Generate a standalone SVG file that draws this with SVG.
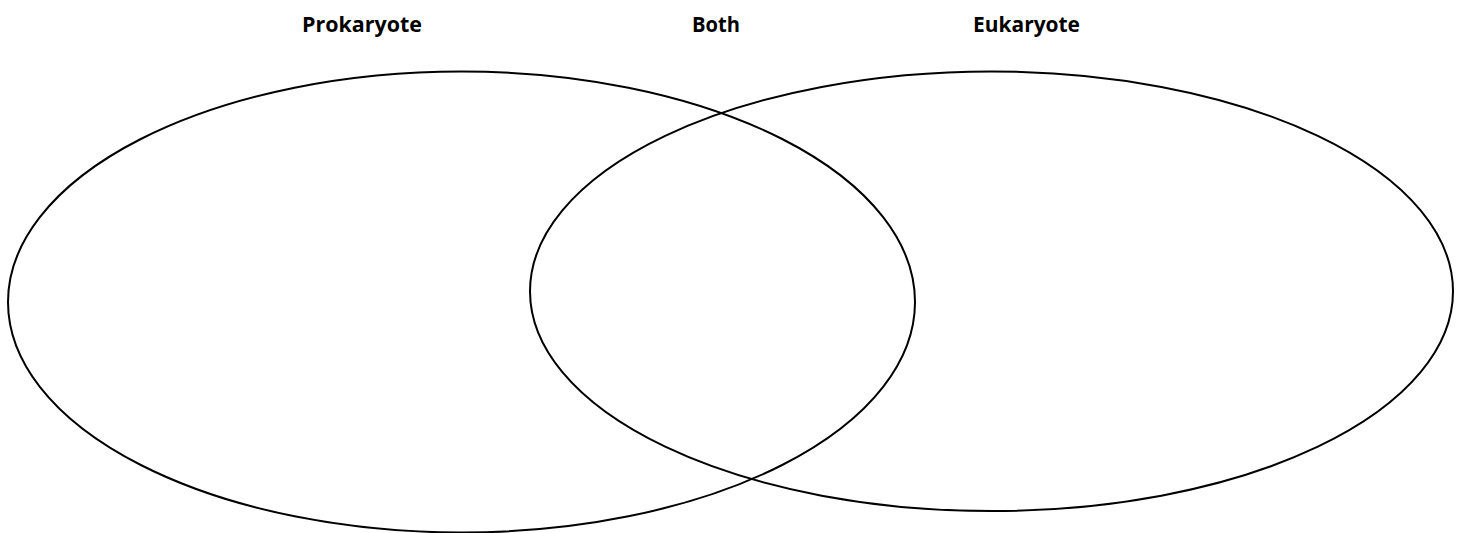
<svg xmlns="http://www.w3.org/2000/svg" width="1460" height="533" viewBox="0 0 1460 533">
<style>
.lbl{font-family:"Open Sans","Liberation Sans",sans-serif;font-weight:bold;font-size:21px;fill:#000}
.ring{fill:none;stroke:#000;stroke-width:2}
</style>
<rect width="1460" height="533" fill="#fff"/>
<g id="prokaryote">
<ellipse class="ring" cx="461.5" cy="302" rx="453.5" ry="230.5"/>
<text class="lbl" x="302" y="32" textLength="120" lengthAdjust="spacingAndGlyphs">Prokaryote</text>
</g>
<g id="eukaryote">
<ellipse class="ring" cx="991.5" cy="291.3" rx="461.5" ry="219.8"/>
<text class="lbl" x="973" y="32" textLength="107" lengthAdjust="spacingAndGlyphs">Eukaryote</text>
</g>
<g id="both">
<text class="lbl" x="692" y="32" textLength="48" lengthAdjust="spacingAndGlyphs">Both</text>
</g>
<g id="connectors"></g>
</svg>
